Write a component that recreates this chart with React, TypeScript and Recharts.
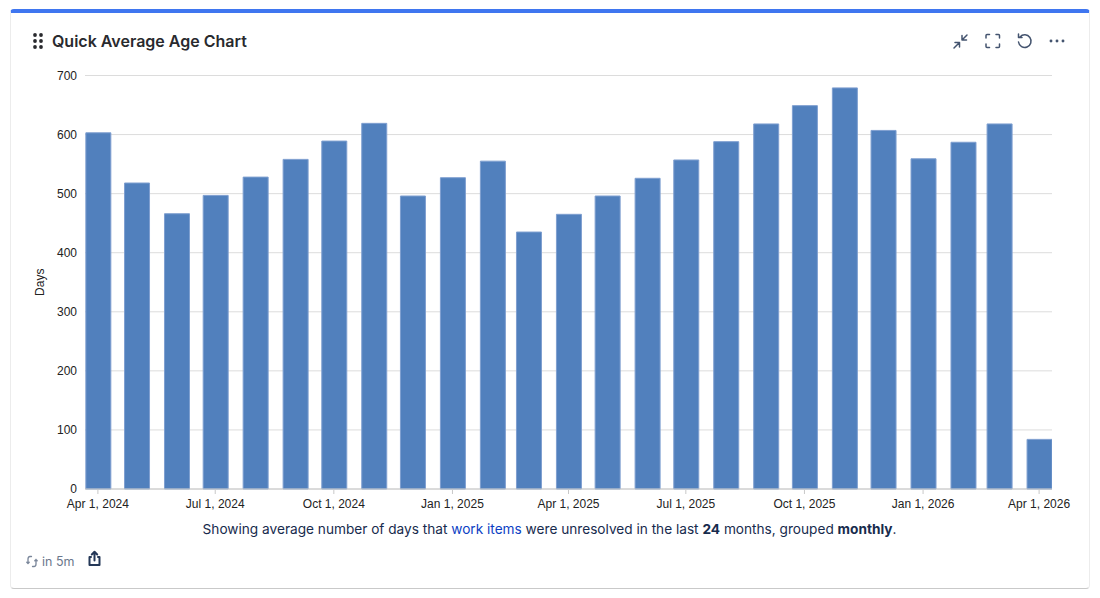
import React from "react";
import { BarChart, Bar, XAxis, YAxis, CartesianGrid } from "recharts";

const months = [
  "2024-04-01","2024-05-01","2024-06-01","2024-07-01","2024-08-01","2024-09-01","2024-10-01","2024-11-01","2024-12-01",
  "2025-01-01","2025-02-01","2025-03-01","2025-04-01","2025-05-01","2025-06-01","2025-07-01","2025-08-01","2025-09-01","2025-10-01","2025-11-01","2025-12-01",
  "2026-01-01","2026-02-01","2026-03-01","2026-04-01",
];
const days = [603,518,466,497,528,558,589,619,496,527,555,435,465,496,526,557,588,618,649,679,607,559,587,618,84];
const xTickDates = ["2024-04-01","2024-07-01","2024-10-01","2025-01-01","2025-04-01","2025-07-01","2025-10-01","2026-01-01","2026-04-01"];
const xTickLabels = ["Apr 1, 2024","Jul 1, 2024","Oct 1, 2024","Jan 1, 2025","Apr 1, 2025","Jul 1, 2025","Oct 1, 2025","Jan 1, 2026","Apr 1, 2026"];
const yTicks = [0,100,200,300,400,500,600,700];

const DAY = 86400000;
const ts = (s: string) => Date.parse(s + "T00:00:00Z");
const data = months.map((m, i) => ({ t: ts(m), days: days[i] }));
const xTicks = xTickDates.map(ts);
const fmt = (v: number) => xTickLabels[xTicks.indexOf(v)] ?? "";
const domain: [number, number] = [ts(months[0]) - 10 * DAY, ts(months[months.length - 1]) + 10 * DAY];

const iconColor = "#44546f";

export default function App() {
  return (
    <div style={{ position: "absolute", left: 0, top: 0, width: 1100, height: 598, background: "#fff", overflow: "hidden", fontFamily: "Inter, sans-serif" }}>
      <div style={{ position: "absolute", left: 10, top: 9, width: 1080, height: 580, boxSizing: "border-box", borderRadius: 4, borderTop: "4px solid #3f76f0", borderLeft: "1px solid #ececec", borderRight: "1px solid #ececec", borderBottom: "1px solid #c9c9c9" }} />
      <svg style={{ position: "absolute", left: 32, top: 33 }} width={12} height={16}>
        {[2, 8].flatMap((x) => [2, 8, 14].map((y) => <circle key={x + "-" + y} cx={x + 1} cy={y} r={1.9} fill="#292a2e" />))}
      </svg>
      <div style={{ position: "absolute", left: 52, top: 31, fontSize: 16, lineHeight: "20px", fontWeight: 600, color: "#292a2e", whiteSpace: "nowrap" }}>Quick Average Age Chart</div>

      <svg style={{ position: "absolute", left: 950, top: 30 }} width={125} height={22} fill="none" stroke={iconColor} strokeWidth={1.5} strokeLinecap="round" strokeLinejoin="round">
        <path d="M4 18l5-5M5 12.500h4.500V17M17 5l-5 5M12 5.500V10h4.500" />
        <path d="M36 8V5.500a1 1 0 0 1 1-1h2.500M46 4.500h2.500a1 1 0 0 1 1 1V8M49.500 14v2.500a1 1 0 0 1-1 1H46M39.500 17.500H37a1 1 0 0 1-1-1V14" />
        <path d="M70 7a6.300 6.300 0 1 1-1.500 5M68.500 4v3.500H72" />
        <circle cx={101} cy={11} r={0.7} fill={iconColor} />
        <circle cx={107} cy={11} r={0.7} fill={iconColor} />
        <circle cx={113} cy={11} r={0.7} fill={iconColor} />
      </svg>

      <div style={{ position: "absolute", left: 0, top: 0 }}>
        <BarChart width={1100} height={598} data={data} margin={{ top: 75.5, right: 48, bottom: 79, left: 0 }}>
          <CartesianGrid vertical={false} stroke="#dcdcdc" strokeWidth={1} />
          <XAxis
            dataKey="t"
            type="number"
            domain={domain}
            ticks={xTicks}
            tickFormatter={fmt}
            interval={0}
            allowDataOverflow
            height={30}
            stroke="#c8c8c8"
            tickSize={5}
            tickMargin={5}
            tick={{ fill: "#222", fontSize: 12, fontFamily: "Liberation Sans" }}
          />
          <YAxis
            width={85}
            domain={[0, 700]}
            ticks={yTicks}
            axisLine={false}
            tickLine={false}
            tickMargin={2}
            tick={{ fill: "#222", fontSize: 12, fontFamily: "Liberation Sans" }}
            label={{ value: "Days", angle: -90, position: "insideLeft", offset: 40, style: { fill: "#222", fontSize: 12, fontFamily: "Liberation Sans", textAnchor: "middle" } }}
          />
          <Bar dataKey="days" fill="#5180bd" stroke="#7f9fd0" strokeWidth={1} barSize={25} isAnimationActive={false} />
        </BarChart>
      </div>

      <div style={{ position: "absolute", left: 10, width: 1079, top: 520, textAlign: "center", fontSize: 13.65, lineHeight: "18px", color: "#172b4d", whiteSpace: "nowrap" }}>
        Showing average number of days that <span style={{ color: "#0c3fc4" }}>work items</span> were unresolved in the last <b>24</b> months, grouped <b>monthly</b>.
      </div>

      <svg style={{ position: "absolute", left: 26, top: 555 }} width={13} height={13} fill="none" stroke="#7a869a" strokeWidth={1.3} strokeLinecap="round">
        <path d="M5.500 1.500H4Q2 1.500 2 4v4.500M0.800 7.200L2 8.500l1.200-1.300" />
        <path d="M6.500 11.500H8q2 0 2-2.500V4.500M8.800 5.800L10 4.500l1.200 1.300" />
      </svg>
      <div style={{ position: "absolute", left: 42, top: 554, fontSize: 12.5, lineHeight: "16px", color: "#6b778c", whiteSpace: "nowrap" }}>in 5m</div>
      <svg style={{ position: "absolute", left: 87, top: 550 }} width={15} height={17} fill="none" stroke="#253858" strokeWidth={2} strokeLinecap="round" strokeLinejoin="round">
        <path d="M4 7H2.500v8h10V7H11" />
        <path d="M7.500 10.500V2M4.800 4.500l2.700-2.700 2.700 2.700" />
      </svg>
    </div>
  );
}
